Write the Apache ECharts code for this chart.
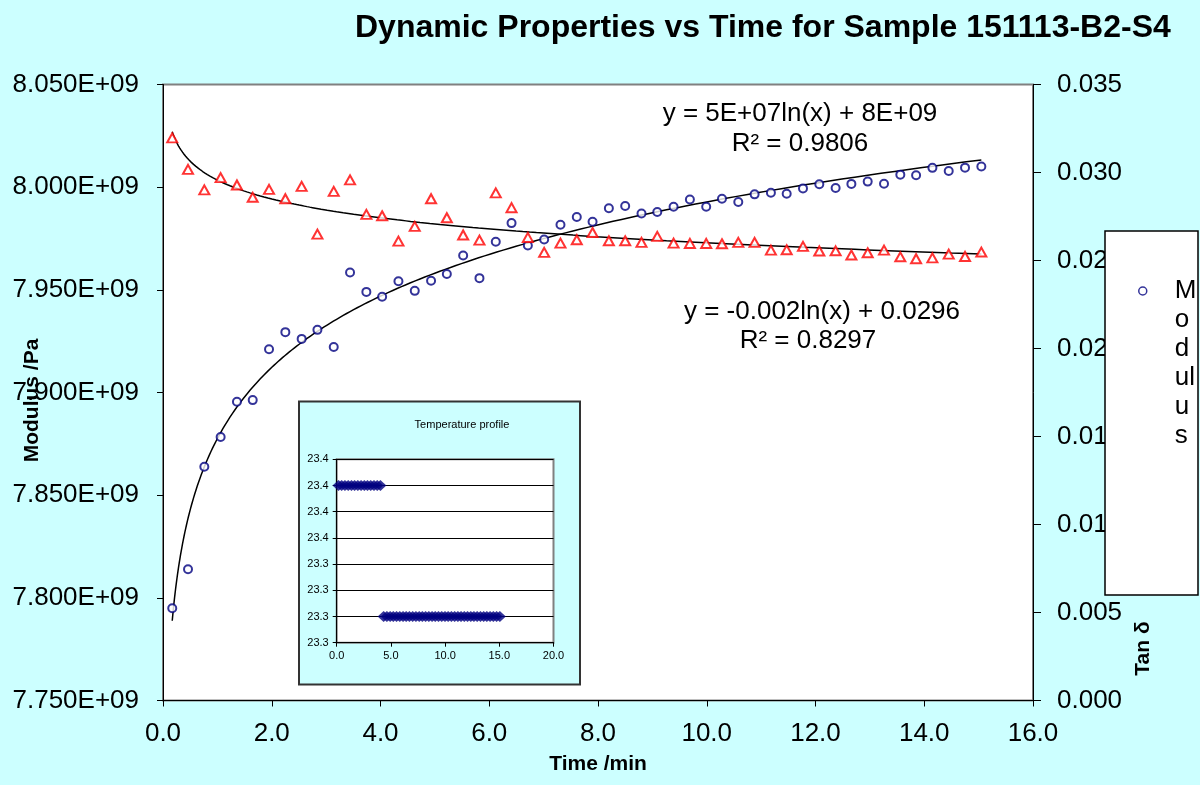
<!DOCTYPE html>
<html><head><meta charset="utf-8">
<script src="https://cdn.jsdelivr.net/npm/echarts@6/dist/echarts.min.js"></script>
<style>html,body{margin:0;padding:0;background:#CCFFFF;} #c{width:1200px;height:785px;}</style>
</head><body><div id="c"></div>
<script>
// ---- data ----
const timeMin = [0.17, 0.46, 0.76, 1.06, 1.36, 1.65, 1.95, 2.25, 2.55, 2.84, 3.14, 3.44, 3.74, 4.03, 4.33, 4.63, 4.93, 5.22, 5.52, 5.82, 6.12, 6.41, 6.71, 7.01, 7.31, 7.61, 7.90, 8.20, 8.50, 8.80, 9.09, 9.39, 9.69, 9.99, 10.28, 10.58, 10.88, 11.18, 11.47, 11.77, 12.07, 12.37, 12.66, 12.96, 13.26, 13.56, 13.85, 14.15, 14.45, 14.75, 15.05];
const modulusPa = [7.7949e9, 7.8139e9, 7.8638e9, 7.8783e9, 7.8955e9, 7.8963e9, 7.9211e9, 7.9294e9, 7.9261e9, 7.9305e9, 7.9222e9, 7.9584e9, 7.9490e9, 7.9466e9, 7.9542e9, 7.9495e9, 7.9544e9, 7.9577e9, 7.9667e9, 7.9557e9, 7.9734e9, 7.9825e9, 7.9716e9, 7.9745e9, 7.9817e9, 7.9855e9, 7.9832e9, 7.9897e9, 7.9908e9, 7.9872e9, 7.9879e9, 7.9905e9, 7.9940e9, 7.9905e9, 7.9944e9, 7.9928e9, 7.9965e9, 7.9973e9, 7.9968e9, 7.9994e9, 8.0014e9, 7.9996e9, 8.0016e9, 8.0027e9, 8.0017e9, 8.0061e9, 8.0058e9, 8.0094e9, 8.0079e9, 8.0095e9, 8.0101e9];
const tanDelta = [0.03197, 0.03018, 0.02901, 0.02971, 0.02929, 0.02859, 0.02904, 0.02851, 0.02921, 0.02650, 0.02893, 0.02958, 0.02762, 0.02754, 0.02610, 0.02694, 0.02851, 0.02743, 0.02645, 0.02616, 0.02884, 0.02800, 0.02631, 0.02546, 0.02599, 0.02618, 0.02659, 0.02612, 0.02612, 0.02603, 0.02637, 0.02599, 0.02597, 0.02597, 0.02595, 0.02603, 0.02603, 0.02559, 0.02561, 0.02580, 0.02554, 0.02555, 0.02531, 0.02544, 0.02559, 0.02521, 0.02510, 0.02515, 0.02536, 0.02523, 0.02548];
const temperatureC = [23.4, 23.4, 23.4, 23.4, 23.4, 23.4, 23.4, 23.4, 23.4, 23.4, 23.4, 23.4, 23.4, 23.4,
  23.3, 23.3, 23.3, 23.3, 23.3, 23.3, 23.3, 23.3, 23.3, 23.3, 23.3, 23.3, 23.3, 23.3, 23.3, 23.3, 23.3, 23.3, 23.3,
  23.3, 23.3, 23.3, 23.3, 23.3, 23.3, 23.3, 23.3, 23.3, 23.3, 23.3, 23.3, 23.3, 23.3, 23.3, 23.3, 23.3, 23.3];
const modulusEquation = ['y = 5E+07ln(x) + 8E+09', 'R\u00b2 = 0.9806'];
const tanEquation = ['y = -0.002ln(x) + 0.0296', 'R\u00b2 = 0.8297'];
const legendLabel = 'M\no\nd\nul\nu\ns';

// ---- logarithmic trendline (least squares on ln x) ----
function lnFit(xs, ys) {
  const n = xs.length;
  let sx = 0, sy = 0, sxx = 0, sxy = 0;
  for (let i = 0; i < n; i++) {
    const lx = Math.log(xs[i]);
    sx += lx; sy += ys[i]; sxx += lx * lx; sxy += lx * ys[i];
  }
  const b = (n * sxy - sx * sy) / (n * sxx - sx * sx);
  const a = (sy - b * sx) / n;
  return { a, b };
}
function fitCurve(xs, ys) {
  const f = lnFit(xs, ys);
  const x0 = xs[0], x1 = xs[xs.length - 1], N = 240, out = [];
  for (let k = 0; k <= N; k++) {
    const x = x0 * Math.pow(x1 / x0, k / N);
    out.push([x, f.a + f.b * Math.log(x)]);
  }
  return out;
}
const zip = (a, b) => a.map((v, i) => [v, b[i]]);

const FONT = '"Liberation Sans", Arial, Helvetica, sans-serif';
const black = '#000';

const chart = echarts.init(document.getElementById('c'), null, { renderer: 'canvas' });
const option = {
  backgroundColor: '#CCFFFF',
  animation: false,
  title: {
    text: 'Dynamic Properties vs Time for Sample 151113-B2-S4',
    left: 355, top: 12, padding: 0,
    textStyle: { fontFamily: FONT, fontSize: 32, fontWeight: 'bold', color: black }
  },
  legend: {
    data: [{ name: 'Modulus', icon: 'circle', itemStyle: { color: '#fff', borderColor: '#000080', borderWidth: 1.5 } }],
    left: 1138, top: 131.5, padding: 0, itemWidth: 54, itemHeight: 8, selectedMode: false, z: 5,
    formatter: () => '\n\n\n\n\n' + legendLabel,
    textStyle: { fontFamily: FONT, fontSize: 26, lineHeight: 29, color: black }
  },
  grid: [
    { left: 163, top: 84.5, width: 870, height: 616, show: true, backgroundColor: '#fff', borderColor: '#808080', borderWidth: 2, z: 0, containLabel: false, outerBoundsMode: 'none' },
    { left: 336.7, top: 459.3, width: 216.8, height: 183.4, show: true, backgroundColor: '#fff', borderColor: '#808080', borderWidth: 2, z: 2, containLabel: false, outerBoundsMode: 'none' }
  ],
  xAxis: [
    {
      gridIndex: 0, type: 'value', min: 0, max: 16, interval: 2,
      name: 'Time /min', nameLocation: 'middle', nameGap: 53, nameMoveOverlap: false,
      nameTextStyle: { fontFamily: FONT, fontSize: 21, fontWeight: 'bold', color: black },
      axisLine: { show: true, onZero: false, lineStyle: { color: black, width: 1 } },
      axisTick: { show: true, inside: false, length: 6, lineStyle: { color: black, width: 1 } },
      axisLabel: { formatter: v => v.toFixed(1), fontFamily: FONT, fontSize: 26, color: black, margin: 20 },
      splitLine: { show: false }
    },
    {
      gridIndex: 1, type: 'value', min: 0, max: 20, interval: 5, z: 3,
      axisLine: { show: true, onZero: false, lineStyle: { color: black, width: 1 } },
      axisTick: { show: true, inside: false, length: 4, lineStyle: { color: black, width: 1 } },
      axisLabel: { formatter: v => v.toFixed(1), fontFamily: FONT, fontSize: 11, color: black, margin: 8 },
      splitLine: { show: false }
    }
  ],
  yAxis: [
    {
      gridIndex: 0, type: 'value', position: 'left', min: 7.75e9, max: 8.05e9, interval: 5e7,
      name: 'Modulus /Pa', nameLocation: 'middle', nameRotate: 90, nameGap: 120, nameMoveOverlap: false,
      nameTextStyle: { fontFamily: FONT, fontSize: 21, fontWeight: 'bold', color: black, padding: [0, 16, 0, 0] },
      axisLine: { show: true, onZero: false, lineStyle: { color: black, width: 1 } },
      axisTick: { show: true, inside: false, length: 6, lineStyle: { color: black, width: 1 } },
      axisLabel: { formatter: v => (v / 1e9).toFixed(3) + 'E+09', fontFamily: FONT, fontSize: 26, color: black, margin: 24 },
      splitLine: { show: false }
    },
    {
      gridIndex: 0, type: 'value', position: 'right', min: 0, max: 0.035, interval: 0.005,
      name: 'Tan \u03b4', nameLocation: 'middle', nameRotate: 90, nameGap: 100, nameMoveOverlap: false,
      nameTextStyle: { fontFamily: FONT, fontSize: 21, fontWeight: 'bold', color: black, padding: [0, 512, 0, 0] },
      axisLine: { show: true, onZero: false, lineStyle: { color: black, width: 1 } },
      axisTick: { show: true, inside: false, length: 8, lineStyle: { color: black, width: 1 } },
      axisLabel: { formatter: v => v.toFixed(3), fontFamily: FONT, fontSize: 26, color: black, margin: 24 },
      splitLine: { show: false }
    },
    {
      gridIndex: 1, type: 'value', min: 23.28, max: 23.42, interval: 0.02, z: 3,
      axisLine: { show: true, onZero: false, lineStyle: { color: black, width: 1 } },
      axisTick: { show: true, inside: false, length: 4, lineStyle: { color: black, width: 1 } },
      axisLabel: { formatter: v => v.toFixed(1), fontFamily: FONT, fontSize: 11, color: black, margin: 8 },
      splitLine: { show: true, lineStyle: { color: black, width: 1 } }
    }
  ],
  series: [
    {
      name: 'Modulus', type: 'scatter', xAxisIndex: 0, yAxisIndex: 0, z: 3,
      data: zip(timeMin, modulusPa), symbol: 'emptyCircle', symbolSize: 8,
      itemStyle: { color: '#000080', borderColor: '#000080', borderWidth: 1.6 }
    },
    {
      name: 'Tan \u03b4', type: 'scatter', xAxisIndex: 0, yAxisIndex: 1, z: 3,
      data: zip(timeMin, tanDelta), symbol: 'emptyTriangle', symbolSize: [10, 9],
      itemStyle: { color: '#FF0000', borderColor: '#FF0000', borderWidth: 1.6 }
    },
    {
      name: 'Modulus fit', type: 'line', xAxisIndex: 0, yAxisIndex: 0, z: 2,
      data: fitCurve(timeMin, modulusPa), showSymbol: false, symbol: 'none', silent: true,
      lineStyle: { color: black, width: 1.5 }
    },
    {
      name: 'Tan fit', type: 'line', xAxisIndex: 0, yAxisIndex: 1, z: 2,
      data: fitCurve(timeMin, tanDelta), showSymbol: false, symbol: 'none', silent: true,
      lineStyle: { color: black, width: 1.5 }
    },
    {
      name: 'Temperature', type: 'scatter', xAxisIndex: 1, yAxisIndex: 2, z: 4,
      data: zip(timeMin, temperatureC), symbol: 'diamond', symbolSize: [12, 11],
      itemStyle: { color: '#000080' }
    }
  ],
  graphic: [
    { type: 'rect', z: 1, shape: { x: 299, y: 401.5, width: 281, height: 283 },
      style: { fill: '#CCFFFF', stroke: '#333', lineWidth: 2 } },
    { type: 'rect', z: 3, shape: { x: 1105, y: 231, width: 93, height: 364 },
      style: { fill: '#fff', stroke: black, lineWidth: 1.5 } },
    { type: 'text', z: 5, x: 462, y: 425,
      style: { text: 'Temperature profile', fontFamily: FONT, fontSize: 11, fill: black, align: 'center', verticalAlign: 'middle' } },
    { type: 'text', z: 5, x: 800, y: 113.6,
      style: { text: modulusEquation[0], fontFamily: FONT, fontSize: 26, fill: black, align: 'center', verticalAlign: 'middle' } },
    { type: 'text', z: 5, x: 800, y: 143.6,
      style: { text: modulusEquation[1], fontFamily: FONT, fontSize: 26, fill: black, align: 'center', verticalAlign: 'middle' } },
    { type: 'text', z: 5, x: 822, y: 312,
      style: { text: tanEquation[0], fontFamily: FONT, fontSize: 26, fill: black, align: 'center', verticalAlign: 'middle' } },
    { type: 'text', z: 5, x: 808, y: 341,
      style: { text: tanEquation[1], fontFamily: FONT, fontSize: 26, fill: black, align: 'center', verticalAlign: 'middle' } }
  ]
};
chart.setOption(option);
</script>
</body></html>
